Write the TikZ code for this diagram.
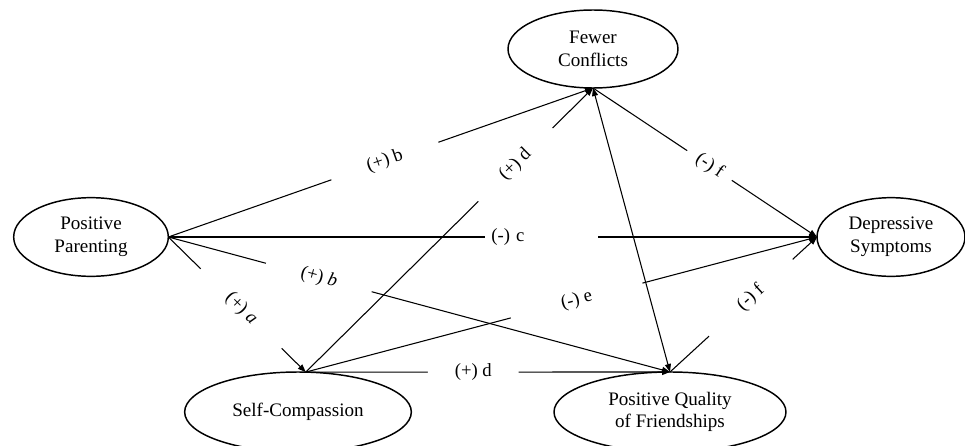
\documentclass[tikz,border=0pt]{standalone}
\usepackage{fontspec}
\setmainfont{Liberation Serif}
\usetikzlibrary{arrows.meta,shapes.geometric}

\begin{document}
\begin{tikzpicture}[
  x=0.75pt, y=-0.75pt,
  var/.style={draw,ellipse,line width=1.1pt,inner sep=0pt,outer sep=0pt,align=center,font=\fontsize{14.3}{17}\selectfont},
  arr/.style={-{Triangle[length=6pt,width=4.5pt]},line width=0.8pt},
  arrboth/.style={{Triangle[length=6pt,width=4.5pt]}-{Triangle[length=6pt,width=4.5pt]},line width=0.8pt},
  coef/.style={fill=white,inner xsep=1pt,inner ysep=0.5pt,sloped,font=\fontsize{14}{17}\selectfont}
]
\useasboundingbox (0,0) rectangle (965,446);

\node[var, minimum width=116pt, minimum height=59pt] (pp) at (91,237) {Positive\\Parenting};
\node[var, minimum width=127.5pt, minimum height=58.5pt] (fc) at (593,49) {Fewer\\Conflicts};
\node[var, minimum width=111pt, minimum height=59pt] (ds) at (891,237) {Depressive\\Symptoms};
\node[var, minimum width=170pt, minimum height=60pt] (sc) at (298,412) {Self-Compassion};
\node[var, minimum width=174pt, minimum height=60pt] (pqf) at (670,412) {Positive Quality\\of Friendships};

\draw[arr] (pp.east) -- node[coef, pos=0.51, minimum width=85pt] {(+) b} (fc.south);
\draw[arr] (pp.east) -- node[coef, pos=0.575, minimum width=85pt, inner xsep=5pt, text width=75pt, align=left] {(-) c} (ds.west);
\draw[arr] (pp.east) -- node[coef, pos=0.53, minimum width=85pt] {(+) \textit{a}} (sc.79);
\draw[arr] (pp.east) -- node[coef, pos=0.30, minimum width=82pt] {(+) \textit{b}} (pqf.north);
\draw[arr] (sc.79) -- node[coef, pos=0.73, minimum width=78pt] {(+) d} (fc.south);
\draw[arr] (sc.79) -- node[coef, pos=0.53, minimum width=102pt] {(-) e} (ds.west);
\draw[arr] (sc.79) -- node[coef, pos=0.46, minimum width=68pt] {(+) d} (pqf.north);
\draw[arr] (fc.south) -- node[coef, pos=0.52, minimum width=40pt] {(-) f} (ds.west);
\draw[arr] (pqf.north) -- node[coef, pos=0.55, minimum width=85pt] {(-) f} (ds.west);
\draw[arrboth] (fc.south) -- (pqf.north);
\end{tikzpicture}
\end{document}
